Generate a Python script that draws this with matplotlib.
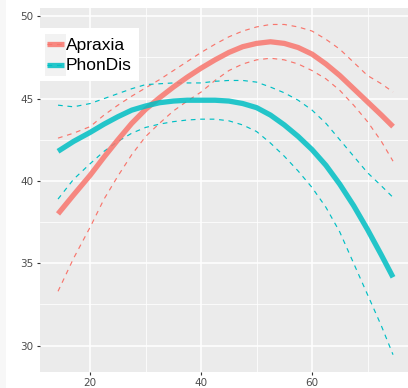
import matplotlib.pyplot as plt
from matplotlib.patches import Rectangle
from matplotlib.lines import Line2D

# ── Smoothed fits with confidence bounds, by age ─────────────────────────────

AGE = [14.2, 17, 20, 22.5, 25, 27.5, 30, 32.5, 35, 37.5, 40, 42.5, 45,
       47.5, 50, 52.5, 55, 57.5, 60, 62.5, 65, 67.5, 70, 72.5, 74.6]

APRAXIA_FIT = [38.0, 39.15, 40.35, 41.45, 42.5, 43.5, 44.35, 45.05, 45.7, 46.3,
               46.85, 47.35, 47.8, 48.15, 48.35, 48.45, 48.35, 48.1, 47.7, 47.1,
               46.4, 45.6, 44.8, 44.0, 43.3]
APRAXIA_HI = [42.6, 42.9, 43.3, 44.0, 44.6, 45.15, 45.65, 46.15, 46.7, 47.25,
              47.8, 48.3, 48.75, 49.1, 49.35, 49.5, 49.5, 49.35, 49.1, 48.6,
              48.0, 47.2, 46.4, 45.9, 45.4]
APRAXIA_LO = [33.3, 35.3, 37.2, 38.9, 40.3, 41.6, 42.7, 43.5, 44.25, 44.85,
              45.4, 46.1, 46.7, 47.1, 47.35, 47.45, 47.35, 47.1, 46.7, 46.2,
              45.5, 44.6, 43.6, 42.4, 41.2]

PHONDIS_FIT = [41.8, 42.4, 42.95, 43.45, 43.9, 44.3, 44.55, 44.75, 44.85, 44.9,
               44.9, 44.9, 44.85, 44.7, 44.45, 44.0, 43.4, 42.7, 41.9, 40.95,
               39.8, 38.5, 37.05, 35.5, 34.15]
PHONDIS_HI = [44.6, 44.5, 44.7, 45.0, 45.3, 45.6, 45.85, 45.9, 45.95, 45.95,
              45.95, 46.05, 46.1, 46.1, 46.0, 45.7, 45.35, 44.9, 44.3, 43.5,
              42.5, 41.5, 40.5, 39.7, 39.0]
PHONDIS_LO = [38.9, 40.1, 41.05, 41.8, 42.4, 42.9, 43.25, 43.45, 43.6, 43.7,
              43.75, 43.75, 43.65, 43.4, 43.0, 42.3, 41.5, 40.6, 39.6, 38.4,
              36.9, 35.0, 33.1, 31.2, 29.45]

GROUPS = ["Apraxia", "PhonDis"]
COLORS = ["#F8766D", "#00BFC4"]

X_TICKS = [20, 40, 60]
X_MINOR = [10, 30, 50, 70]
Y_TICKS = [30, 35, 40, 45, 50]
Y_MINOR = [32.5, 37.5, 42.5, 47.5]

W, H = 408, 388
DASH = (0, (4, 4))


def px(x, y):
    """Pixel position (from top-left) to figure fraction."""
    return x / W, 1 - y / H


fig = plt.figure(figsize=(W / 100, H / 100), dpi=100)
fig.patches.append(Rectangle((0, 0), 6 / W, 1, transform=fig.transFigure,
                             facecolor="#F7F7F7", edgecolor="none", zorder=0))

ax = fig.add_axes([40 / W, 16 / H, 368 / W, 364 / H])
ax.set_facecolor("#EBEBEB")
for side in ax.spines.values():
    side.set_visible(False)

# ggplot-style grid
for v in X_MINOR:
    ax.axvline(v, color="white", lw=0.55, zorder=0)
for v in X_TICKS:
    ax.axvline(v, color="white", lw=1.1, zorder=0)
for v in Y_MINOR:
    ax.axhline(v, color="white", lw=0.55, zorder=0)
for v in Y_TICKS:
    ax.axhline(v, color="white", lw=1.1, zorder=0)

series = [
    (APRAXIA_FIT, APRAXIA_HI, APRAXIA_LO),
    (PHONDIS_FIT, PHONDIS_HI, PHONDIS_LO),
]
for (fit, hi, lo), col in zip(series, COLORS):
    for bound in (hi, lo):
        ax.plot(AGE, bound, color=col, lw=0.85, linestyle=DASH, zorder=2)
    ax.plot(AGE, fit, color=col, lw=3.8, alpha=0.85,
            solid_capstyle="butt", zorder=3)

ax.set_xlim(10.95, 77.3)
ax.set_ylim(28.4, 50.5)
ax.set_xticks(X_TICKS)
ax.set_yticks(Y_TICKS)
ax.tick_params(axis="both", length=2.5, width=0.8, color="#333333",
               labelcolor="#4D4D4D", labelsize=7.5, pad=2)

# legend box drawn by hand: white frame, grey key cells, line keys, labels
x0, y0 = px(40, 80.5)
x1, y1 = px(139, 28.3)
fig.patches.append(Rectangle((x0, y0), x1 - x0, y1 - y0,
                             transform=fig.transFigure, facecolor="white",
                             edgecolor="none", zorder=5))
kx0, ky0 = px(45, 75.5)
kx1, ky1 = px(66, 34)
fig.patches.append(Rectangle((kx0, ky0), kx1 - kx0, ky1 - ky0,
                             transform=fig.transFigure, facecolor="#F2F2F2",
                             edgecolor="none", zorder=6))
for i, (name, col) in enumerate(zip(GROUPS, COLORS)):
    yc = 44.2 + i * 20.3
    la, lb = px(47.3, yc), px(63.5, yc)
    fig.add_artist(Line2D([la[0], lb[0]], [la[1], lb[1]], color=col, lw=3.8,
                          alpha=0.85, solid_capstyle="butt", zorder=7))
    fig.add_artist(Line2D([la[0], lb[0]], [la[1], lb[1]], color=col, lw=0.85,
                          linestyle=DASH, zorder=7))
    tx, ty = px(66, yc)
    fig.text(tx, ty, name, family="Liberation Sans", fontsize=12.5,
             color="black", ha="left", va="center_baseline", zorder=7)

fig.savefig("out.png", dpi=100)
